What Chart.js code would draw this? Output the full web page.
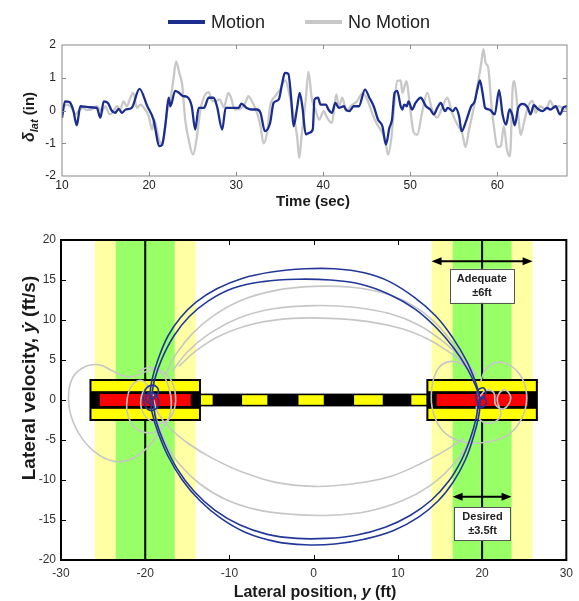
<!DOCTYPE html>
<html>
<head>
<meta charset="utf-8">
<script src="https://cdn.jsdelivr.net/npm/chart.js@4.4.1/dist/chart.umd.min.js"></script>
<style>
  html, body { margin: 0; padding: 0; background: #fff; }
  #wrap { position: relative; width: 579px; height: 601px; overflow: hidden; }
  #topBox { position: absolute; left: 0; top: 0; width: 579px; height: 210px; }
  #phaseBox { position: absolute; left: 0; top: 210px; width: 579px; height: 391px; }
  canvas { display: block; }
</style>
</head>
<body>
<div id="wrap">
  <div id="topBox"><canvas id="timeChart" width="579" height="210"></canvas></div>
  <div id="phaseBox"><canvas id="phaseChart" width="579" height="391"></canvas></div>
</div>
<script>
// ---------- lateral stick input vs time ----------
const timeTicks = [10, 20, 30, 40, 50, 60];
const latTicks = [-2, -1, 0, 1, 2];

const timeMotion = [10,10.35,10.9,11.3,11.7,12.1,13,14,14.4,14.8,15.3,15.7,16.1,16.5,16.9,17.3,18.0,18.9,19.8,20.5,21.2,21.5,21.9,22.25,22.45,23.0,23.4,23.9,24.35,24.9,25.3,25.7,26.3,26.85,27.4,27.8,28.4,28.8,29.6,30.3,30.6,31.2,31.8,32.4,32.8,33.3,33.9,34.3,34.9,35.3,35.6,36.0,36.3,36.6,37.0,37.3,37.6,38.0,38.4,38.8,39.0,39.4,39.7,40.3,40.6,41.0,41.4,41.8,42.4,42.6,43.0,43.5,44.1,44.8,45.3,45.8,46.3,46.8,47.2,47.6,47.9,48.2,48.5,48.9,49.1,49.3,49.6,49.8,50.2,50.6,51.2,51.8,52.3,52.7,53.1,53.5,54.0,54.3,54.9,55.2,55.6,55.9,56.4,57.0,57.4,57.7,58.0,58.3,58.6,59.1,59.7,60.2,60.6,61.0,61.4,61.7,62.0,62.4,62.9,63.5,63.8,64.2,64.6,65.2,65.7,66.1,66.7,67.2,67.6,68];
const latMotion = [-0.22,0.28,0.25,0,-0.45,0.13,0.1,0.08,-0.22,0.28,0.22,0,-0.07,0.05,-0.07,0.03,0.08,0.66,0.13,-0.27,-1.09,-1.05,-0.38,0.39,0.13,0.6,0.55,0.44,0.42,0.13,-0.58,0.08,0.08,0.39,0.39,0.13,-0.58,0.08,0.08,0.08,0.21,0.08,0.03,0.03,-0.07,-0.63,-0.38,0.23,0.34,0.85,1.15,1.12,0.44,-0.48,0.08,0.54,0.13,-0.73,-0.68,-0.58,0.34,0.39,0.18,0.18,0.03,-0.07,0.23,0.08,0.13,0.03,-0.02,0.13,0.13,0.64,0.39,0.13,-0.28,-0.48,-1.04,-0.53,-0.28,0.54,0.6,0.13,0.03,0.18,0.13,0.28,0.03,0.23,0.39,0.13,0.03,-0.12,0.08,0.23,-0.02,0.08,-0.02,0.08,-0.17,-0.63,-0.33,0.13,0.28,0.64,0.92,0.54,0.08,0.03,-0.12,0.62,-0.12,-0.43,0.03,-0.12,-0.45,0.08,0.2,0.08,-0.12,0.16,0.06,-0.02,0.08,0.03,0.13,-0.12,0.1,0.13];

const timeNoMotion = [10,10.55,11.1,11.5,11.9,12.45,12.85,13.4,14.0,14.6,14.95,15.5,15.9,16.3,16.7,17.05,17.45,17.85,18.2,18.6,19.0,19.55,19.95,20.35,20.6,20.9,21.3,21.65,22.05,22.45,22.8,23.1,23.5,23.8,24.15,24.55,25.05,25.5,25.9,26.45,26.85,27.25,27.65,28.1,28.6,29.1,29.4,29.85,30.65,31.05,31.4,31.8,32.4,32.8,33.15,33.55,33.9,34.5,35.05,35.65,36.15,36.6,37.0,37.25,37.55,38.0,38.3,38.7,39.1,39.55,40.05,40.45,41.0,41.5,41.8,42.2,42.65,43.15,43.9,44.5,45.05,45.6,46.2,46.8,47.15,47.45,47.85,48.15,48.5,48.9,49.1,49.55,50.0,50.4,50.8,51.35,51.95,52.5,53.1,53.65,54.25,54.8,55.4,55.95,56.35,56.75,57.25,57.7,58.1,58.4,58.65,58.95,59.3,59.6,60.0,60.4,60.75,61.1,61.45,61.75,61.95,62.3,62.7,63.05,63.55,64.05,64.4,64.9,65.6,66.05,66.55,67.1,67.7,68];
const latNoMotion = [0.03,0.18,0.08,-0.12,-0.02,0.08,0.01,0.03,0.13,-0.02,0.13,-0.12,-0.02,0.13,0.03,0.28,0.13,0.39,0.54,0.08,0.18,0.03,-0.17,-0.58,-0.28,-0.58,-1.0,-0.89,-0.07,0.34,0.95,1.5,1.12,0.8,-0.28,-0.89,-1.35,-0.79,0.03,0.49,0.56,0.29,0.29,0.34,0.1,0.54,0.4,0.03,0.08,0.23,0.44,0.29,-0.07,-0.48,-1.0,-0.68,0.13,0.44,0.64,0.92,0.44,-0.17,-0.79,-1.45,-0.68,0.34,1.18,0.34,0.03,-0.28,-0.02,-0.22,-0.38,0.49,0.13,0.39,-0.02,0.13,0.29,0.52,0.34,-0.07,-0.43,-0.68,-0.94,-1.35,-0.79,0.13,0.9,0.92,0.54,0.9,0.03,-0.68,-0.74,-0.07,0.54,0.03,-0.22,0.08,0.39,-0.07,-0.43,-0.68,-1.12,-0.58,0.03,0.74,1.35,1.87,1.46,1.31,0.23,-0.48,-1.12,-1.09,-0.48,-1.19,-1.4,0.64,0.9,0.13,-0.74,-0.38,0.13,0.29,-0.07,0.13,0.03,0.3,0.08,0.13,0.03,0.08];

// ---------- phase portrait ----------
const positionTicks = [-30, -20, -10, 0, 10, 20, 30];
const velocityTicks = [-20, -15, -10, -5, 0, 5, 10, 15, 20];

const targetCenters = [-20, 20];
const desiredHalfWidth = 3.5;
const adequateHalfWidth = 6;
const padHalfWidth = 6.5;
const padHalfHeight = 2.5;
const padStripHalfHeight = 1.1;
const padCoreHalfWidth = 5.4;
const padCoreHalfHeight = 0.75;
const laneHalfHeight = 0.8;
const laneDashHalfHeight = 0.6;
const laneDashes = [[-13.5, -12], [-8.5, -5.5], [-1.8, 1.2], [4.8, 8.2], [11.6, 13.5]];
const adequateArrow = { y: 17.35, from: 14, to: 26 };
const desiredArrow = { y: -12.1, from: 16.5, to: 23.5 };
const adequateLabel = { lines: ['Adequate', '\u00b16ft'], x0: 16.15, x1: 23.8, y0: 12.15, y1: 16.4 };
const desiredLabel = { lines: ['Desired', '\u00b13.5ft'], x0: 16.7, x1: 23.4, y0: -17.5, y1: -13.4 };

const motionUpperOuter = [[-19.5,0],[-19.2,2.5],[-18.5,5],[-17.3,8],[-15.8,10.3],[-14,12.2],[-11.5,13.9],[-8.5,15.2],[-5,16],[-1,16.4],[2.5,16.4],[6,15.9],[9,14.8],[12,12.8],[14.5,10.5],[16.5,7.8],[18.2,4.8],[19.3,2],[19.8,0]];
const motionUpperInner = [[-19.3,0],[-18.9,2.5],[-18,5.2],[-16.6,8],[-14.8,10.4],[-12.5,12.4],[-9.5,14],[-6,14.8],[-2,15.1],[2,15],[5.5,14.5],[9,13.2],[12,11.4],[14.6,9],[16.7,6.4],[18.3,3.8],[19.3,1.6],[19.8,0]];
const motionLowerOuter = [[19.8,0],[19.6,-2],[19,-4.5],[18,-7.5],[16.6,-10.2],[14.8,-12.6],[12.5,-14.6],[9.5,-16.3],[6,-17.4],[2.5,-18],[-1,-18.1],[-4.5,-17.7],[-8,-16.6],[-11,-14.8],[-13.5,-12.6],[-15.6,-10],[-17.3,-7],[-18.5,-4],[-19.2,-1.5],[-19.4,0]];
const motionLowerInner = [[19.6,0],[19.3,-2.2],[18.6,-4.8],[17.5,-7.6],[16,-10.2],[14,-12.5],[11.5,-14.4],[8.5,-15.9],[5,-16.9],[1.5,-17.3],[-2,-17.3],[-5.5,-16.8],[-8.8,-15.6],[-11.7,-13.8],[-14.2,-11.4],[-16.2,-8.6],[-17.7,-5.5],[-18.7,-2.6],[-19.1,0]];
const motionLoopWest = [[-19.3,0],[-18.5,0.8],[-18.6,1.6],[-19.4,1.8],[-20.1,1],[-20.1,-0.5],[-19.4,-1.3],[-18.5,-0.8],[-18.7,0.6],[-19.6,0.9],[-19.9,0],[-19.3,-0.6]];
const motionLoopEast = [[19.8,0],[20.4,0.7],[20.2,1.5],[19.5,1.2],[19.3,0.1],[19.9,-0.9],[20.5,-0.4],[20.1,0.4],[19.6,0]];

const noMotionUpperHigh = [[-17.6,3.2],[-16.3,5.8],[-14.4,8.3],[-11.8,10.6],[-8.5,12.5],[-4.5,13.7],[0,14.2],[4.5,14.1],[8.5,13.3],[11.8,11.8],[14.3,9.8],[16.3,7.4],[17.9,4.8],[19,2.4],[19.6,0.6]];
const noMotionUpperMid = [[-16.8,3.6],[-15,6],[-12.5,8.2],[-9,10.2],[-4.8,11.4],[0,11.8],[4.8,11.6],[9,10.8],[12.4,9.4],[15,7.6],[16.8,6],[18.3,4.5],[19.3,3.2]];
const noMotionUpperLow = [[-16,4.2],[-13.8,6.3],[-10.8,8.2],[-6.8,9.6],[-2.5,10.2],[2,10.2],[6.5,9.8],[10.5,8.9],[13.6,7.6],[15.8,6.2],[17.5,4.9],[19,3.6]];
const noMotionLowerShallow = [[17.8,-4.8],[15.8,-6.2],[12.8,-7.9],[9,-9.6],[4.5,-10.5],[0,-10.8],[-4.5,-10.3],[-8.5,-9],[-12,-7.3],[-14.8,-5.5],[-17,-3.6],[-18.5,-1.6],[-19,0]];
const noMotionLowerDeep = [[19.4,-3.2],[18.1,-5.9],[16.2,-8.5],[13.7,-10.8],[10.5,-12.6],[6.5,-13.9],[2,-14.4],[-2.5,-14.3],[-6.8,-13.7],[-10.5,-12.4],[-13.5,-10.5],[-15.8,-8.2],[-17.4,-5.7],[-18.5,-3],[-19,-0.8]];
const noMotionLoopWestWide = [[-18.2,-3.8],[-19.6,-5.8],[-21.5,-7.3],[-23.5,-7.7],[-25.6,-6.8],[-27.5,-4.8],[-28.8,-2],[-29.1,0.8],[-28.5,3],[-27.1,4.2],[-25.5,4.4],[-24,3.7],[-22.6,3],[-21.2,3],[-19.8,3.6],[-18.3,3.7],[-17,2.6],[-16.4,0.5],[-16.7,-1.6],[-17.8,-2.8],[-19.2,-2.7],[-20.3,-1.5],[-20.5,0.2],[-19.8,1.6],[-18.8,1.8]];
const noMotionLoopWestInner = [[-19,0.5],[-20.3,2.4],[-21.6,1.8],[-22.2,-0.5],[-21.8,-2.6],[-20.5,-3.9],[-18.8,-4],[-17.4,-2.8],[-16.9,-0.6],[-17.2,1.6],[-18.1,3.4],[-19.4,4.1],[-20.8,3.6]];
const noMotionLoopEastWide = [[19.2,3],[17.8,4.4],[16.1,4.8],[14.7,3.8],[14,1.2],[14.2,-1.6],[15.3,-3.8],[17,-5],[19.1,-5.4],[21.3,-5.1],[23.3,-4.2],[24.7,-2.3],[25.3,0.2],[24.8,2.6],[23.5,4.2],[21.8,4.7],[20.4,3.8],[19.8,2.2]];
const noMotionLoopEastInner = [[19.6,0.2],[20.4,1.2],[21.4,0.9],[21.6,-0.6],[22.6,-1.1],[23.4,0.3],[22.6,1.3],[21.8,0.2],[22.2,-1.9],[21,-2.9],[19.6,-2.3],[19.3,-0.8]];

const motionPaths = [motionUpperOuter, motionUpperInner, motionLowerOuter, motionLowerInner, motionLoopWest, motionLoopEast];
const noMotionPaths = [noMotionUpperHigh, noMotionUpperMid, noMotionUpperLow, noMotionLowerShallow, noMotionLowerDeep, noMotionLoopWestWide, noMotionLoopWestInner, noMotionLoopEastWide, noMotionLoopEastInner];

// ---------- styling ----------
const SANS = "'Liberation Sans', Arial, sans-serif";
const MOTION_BLUE = '#1b2e8f';
const NO_MOTION_GREY = '#c8c8c8';

// Rich text runs (mixed italic / subscript) centred on a point, optionally rotated
function drawRuns(ctx, runs, cx, cy, angle) {
  ctx.save();
  ctx.translate(cx, cy);
  ctx.rotate(angle || 0);
  ctx.textAlign = 'left';
  ctx.textBaseline = 'alphabetic';
  let total = 0;
  runs.forEach(r => { ctx.font = r.font; r.w = ctx.measureText(r.text).width; total += r.w; });
  let x = -total / 2;
  runs.forEach(r => {
    ctx.font = r.font;
    ctx.fillStyle = r.color || '#1a1a1a';
    ctx.fillText(r.text, x, r.dy || 0);
    x += r.w;
  });
  ctx.restore();
}

const axisTitles = {
  id: 'axisTitles',
  afterDraw(chart, args, opts) {
    (opts.items || []).forEach(it => drawRuns(chart.ctx, it.runs, it.x, it.y, it.angle));
  }
};

// Box round the plot with inward ticks on all four sides
const frame = {
  id: 'frame',
  afterDraw(chart, args, o) {
    const { ctx, chartArea: a, scales } = chart;
    ctx.save();
    ctx.strokeStyle = o.color;
    ctx.lineWidth = o.tickWidth;
    ctx.beginPath();
    scales.x.ticks.forEach(t => {
      const px = Math.round(scales.x.getPixelForValue(t.value)) + 0.5;
      if (px <= a.left + 2 || px >= a.right - 2) return;
      ctx.moveTo(px, a.bottom); ctx.lineTo(px, a.bottom - o.tickLen);
      ctx.moveTo(px, a.top); ctx.lineTo(px, a.top + o.tickLen);
    });
    scales.y.ticks.forEach(t => {
      const py = Math.round(scales.y.getPixelForValue(t.value)) + 0.5;
      if (py <= a.top + 2 || py >= a.bottom - 2) return;
      ctx.moveTo(a.left, py); ctx.lineTo(a.left + o.tickLen, py);
      ctx.moveTo(a.right, py); ctx.lineTo(a.right - o.tickLen, py);
    });
    ctx.stroke();
    ctx.lineWidth = o.width;
    ctx.strokeRect(a.left, a.top, a.right - a.left, a.bottom - a.top);
    ctx.restore();
  }
};

// Line-sample legend built from the dataset labels and colours
const lineLegend = {
  id: 'lineLegend',
  afterDraw(chart, args, o) {
    const ctx = chart.ctx;
    ctx.save();
    ctx.font = o.font;
    ctx.textBaseline = 'middle';
    ctx.textAlign = 'left';
    let x = o.x;
    chart.data.datasets.forEach(ds => {
      ctx.strokeStyle = ds.borderColor;
      ctx.lineWidth = o.lineWidth;
      ctx.beginPath();
      ctx.moveTo(x, o.y); ctx.lineTo(x + o.lineLen, o.y);
      ctx.stroke();
      x += o.lineLen + o.gap;
      ctx.fillStyle = o.color;
      ctx.fillText(ds.label, x, o.y + 1);
      x += ctx.measureText(ds.label).width + o.spacing;
    });
    ctx.restore();
  }
};

function pairs(xs, ys) { return xs.map((x, i) => ({ x, y: ys[i] })); }

new Chart(document.getElementById('timeChart'), {
  type: 'line',
  data: {
    datasets: [
      { label: 'Motion', data: pairs(timeMotion, latMotion), borderColor: MOTION_BLUE, borderWidth: 2.3,
        pointRadius: 0, cubicInterpolationMode: 'monotone', fill: false },
      { label: 'No Motion', data: pairs(timeNoMotion, latNoMotion), borderColor: NO_MOTION_GREY, borderWidth: 2.3,
        pointRadius: 0, cubicInterpolationMode: 'monotone', fill: false }
    ]
  },
  options: {
    responsive: false, animation: false, events: [],
    layout: { padding: { top: 45, right: 12, left: 0, bottom: 0 } },
    plugins: {
      legend: { display: false }, tooltip: { enabled: false },
      frame: { color: '#8a8a8a', width: 1, tickWidth: 1, tickLen: 4 },
      lineLegend: { x: 168, y: 22, lineLen: 37, lineWidth: 4, gap: 6, spacing: 40, font: '18px ' + SANS, color: '#222' },
      axisTitles: { items: [
        { x: 313, y: 206, angle: 0, runs: [{ text: 'Time (sec)', font: 'bold 15px ' + SANS }] },
        { x: 34, y: 117, angle: -Math.PI / 2, runs: [
          { text: '\u03b4', font: 'italic bold 16px ' + SANS },
          { text: 'lat', font: 'italic bold 11px ' + SANS, dy: 4 },
          { text: ' (in)', font: 'bold 15px ' + SANS }
        ] }
      ] }
    },
    scales: {
      x: {
        type: 'linear', min: 10, max: 68,
        grid: { display: false, drawTicks: false }, border: { display: false },
        ticks: { font: { family: SANS, size: 12 }, color: '#222', padding: 2, maxRotation: 0 },
        afterBuildTicks: s => { s.ticks = timeTicks.map(v => ({ value: v })); },
        afterFit: s => { s.height = 34; }
      },
      y: {
        type: 'linear', min: -2, max: 2,
        grid: { display: false, drawTicks: false }, border: { display: false },
        ticks: { font: { family: SANS, size: 12 }, color: '#222', padding: 6 },
        afterBuildTicks: s => { s.ticks = latTicks.map(v => ({ value: v })); },
        afterFit: s => { s.width = 62; }
      }
    }
  },
  plugins: [frame, lineLegend, axisTitles]
});

// Target zones, landing pads and the dashed lane between them
const track = {
  id: 'track',
  beforeDatasetsDraw(chart) {
    const { ctx, chartArea: a, scales: { x, y } } = chart;
    const X = v => x.getPixelForValue(v), Y = v => y.getPixelForValue(v);
    const rect = (x0, x1, y0, y1, fill) => {
      ctx.fillStyle = fill;
      ctx.fillRect(X(x0), Y(y1), X(x1) - X(x0), Y(y0) - Y(y1));
    };
    ctx.save();
    ctx.beginPath(); ctx.rect(a.left, a.top, a.right - a.left, a.bottom - a.top); ctx.clip();
    targetCenters.forEach(c => rect(c - adequateHalfWidth, c + adequateHalfWidth, -20, 20, '#ffffa3'));
    targetCenters.forEach(c => rect(c - desiredHalfWidth, c + desiredHalfWidth, -20, 20, '#99ff66'));
    ctx.strokeStyle = '#000'; ctx.lineWidth = 2;
    targetCenters.forEach(c => { ctx.beginPath(); ctx.moveTo(X(c), a.top); ctx.lineTo(X(c), a.bottom); ctx.stroke(); });
    // lane
    rect(targetCenters[0] + padHalfWidth, targetCenters[1] - padHalfWidth, -laneHalfHeight, laneHalfHeight, '#000');
    laneDashes.forEach(d => rect(d[0], d[1], -laneDashHalfHeight, laneDashHalfHeight, '#ffff00'));
    // pads
    targetCenters.forEach(c => {
      rect(c - padHalfWidth, c + padHalfWidth, -padHalfHeight, padHalfHeight, '#ffff00');
      rect(c - padHalfWidth, c + padHalfWidth, -padStripHalfHeight, padStripHalfHeight, '#000');
      rect(c - padCoreHalfWidth, c + padCoreHalfWidth, -padCoreHalfHeight, padCoreHalfHeight, '#ff0000');
      ctx.strokeStyle = '#000'; ctx.lineWidth = 2;
      ctx.strokeRect(X(c - padHalfWidth), Y(padHalfHeight), X(c + padHalfWidth) - X(c - padHalfWidth), Y(-padHalfHeight) - Y(padHalfHeight));
    });
    ctx.restore();
  }
};

// Tolerance arrows and their labels
const callouts = {
  id: 'callouts',
  afterDatasetsDraw(chart) {
    const { ctx, scales: { x, y } } = chart;
    const X = v => x.getPixelForValue(v), Y = v => y.getPixelForValue(v);
    ctx.save();
    [adequateArrow, desiredArrow].forEach(ar => {
      const x0 = X(ar.from), x1 = X(ar.to), py = Y(ar.y);
      const head = 10, half = 4;
      ctx.strokeStyle = '#000'; ctx.fillStyle = '#000'; ctx.lineWidth = 2;
      ctx.beginPath(); ctx.moveTo(x0 + head - 1, py); ctx.lineTo(x1 - head + 1, py); ctx.stroke();
      ctx.beginPath(); ctx.moveTo(x0, py); ctx.lineTo(x0 + head, py - half); ctx.lineTo(x0 + head, py + half); ctx.closePath(); ctx.fill();
      ctx.beginPath(); ctx.moveTo(x1, py); ctx.lineTo(x1 - head, py - half); ctx.lineTo(x1 - head, py + half); ctx.closePath(); ctx.fill();
    });
    [adequateLabel, desiredLabel].forEach(lb => {
      const l = X(lb.x0), r = X(lb.x1), t = Y(lb.y1), b = Y(lb.y0);
      ctx.fillStyle = '#fff';
      ctx.fillRect(l, t, r - l, b - t);
      ctx.strokeStyle = '#555'; ctx.lineWidth = 1;
      ctx.strokeRect(Math.round(l) + 0.5, Math.round(t) + 0.5, Math.round(r - l), Math.round(b - t));
      ctx.fillStyle = '#222';
      ctx.font = 'bold 11px ' + SANS;
      ctx.textAlign = 'center'; ctx.textBaseline = 'middle';
      const cx = (l + r) / 2, h = b - t;
      ctx.fillText(lb.lines[0], cx, t + h * 0.3);
      ctx.fillText(lb.lines[1], cx, t + h * 0.72);
    });
    ctx.restore();
  }
};

function pathSet(paths, color, width) {
  return paths.map(p => ({
    data: p.map(q => ({ x: q[0], y: q[1] })),
    showLine: true, borderColor: color, borderWidth: width,
    pointRadius: 0, tension: 0.4, fill: false
  }));
}

new Chart(document.getElementById('phaseChart'), {
  type: 'scatter',
  data: {
    datasets: [
      ...pathSet(motionPaths, '#22379a', 1.6),
      ...pathSet(noMotionPaths, '#c6c6c6', 1.6)
    ]
  },
  options: {
    responsive: false, animation: false, events: [],
    layout: { padding: { top: 30, right: 11, left: 0, bottom: 0 } },
    plugins: {
      legend: { display: false }, tooltip: { enabled: false },
      frame: { color: '#000', width: 2, tickWidth: 1, tickLen: 5 },
      axisTitles: { items: [
        { x: 315, y: 387, angle: 0, runs: [
          { text: 'Lateral position, ', font: 'bold 16px ' + SANS },
          { text: 'y', font: 'italic bold 16px ' + SANS },
          { text: ' (ft)', font: 'bold 16px ' + SANS }
        ] },
        { x: 35, y: 168, angle: -Math.PI / 2, runs: [
          { text: 'Lateral velocity, ', font: 'bold 19px ' + SANS },
          { text: '\u1e8f', font: 'italic bold 19px ' + SANS },
          { text: ' (ft/s)', font: 'bold 19px ' + SANS }
        ] }
      ] }
    },
    scales: {
      x: {
        type: 'linear', min: -30, max: 30,
        grid: { display: false, drawTicks: false }, border: { display: false },
        ticks: { font: { family: SANS, size: 12 }, color: '#333', padding: 6, maxRotation: 0 },
        afterBuildTicks: s => { s.ticks = positionTicks.map(v => ({ value: v })); },
        afterFit: s => { s.height = 41; }
      },
      y: {
        type: 'linear', min: -20, max: 20,
        grid: { display: false, drawTicks: false }, border: { display: false },
        ticks: { font: { family: SANS, size: 12 }, color: '#333', padding: 5 },
        afterBuildTicks: s => { s.ticks = velocityTicks.map(v => ({ value: v })); },
        afterFit: s => { s.width = 61; }
      }
    }
  },
  plugins: [track, callouts, frame, axisTitles]
});
</script>
</body>
</html>
